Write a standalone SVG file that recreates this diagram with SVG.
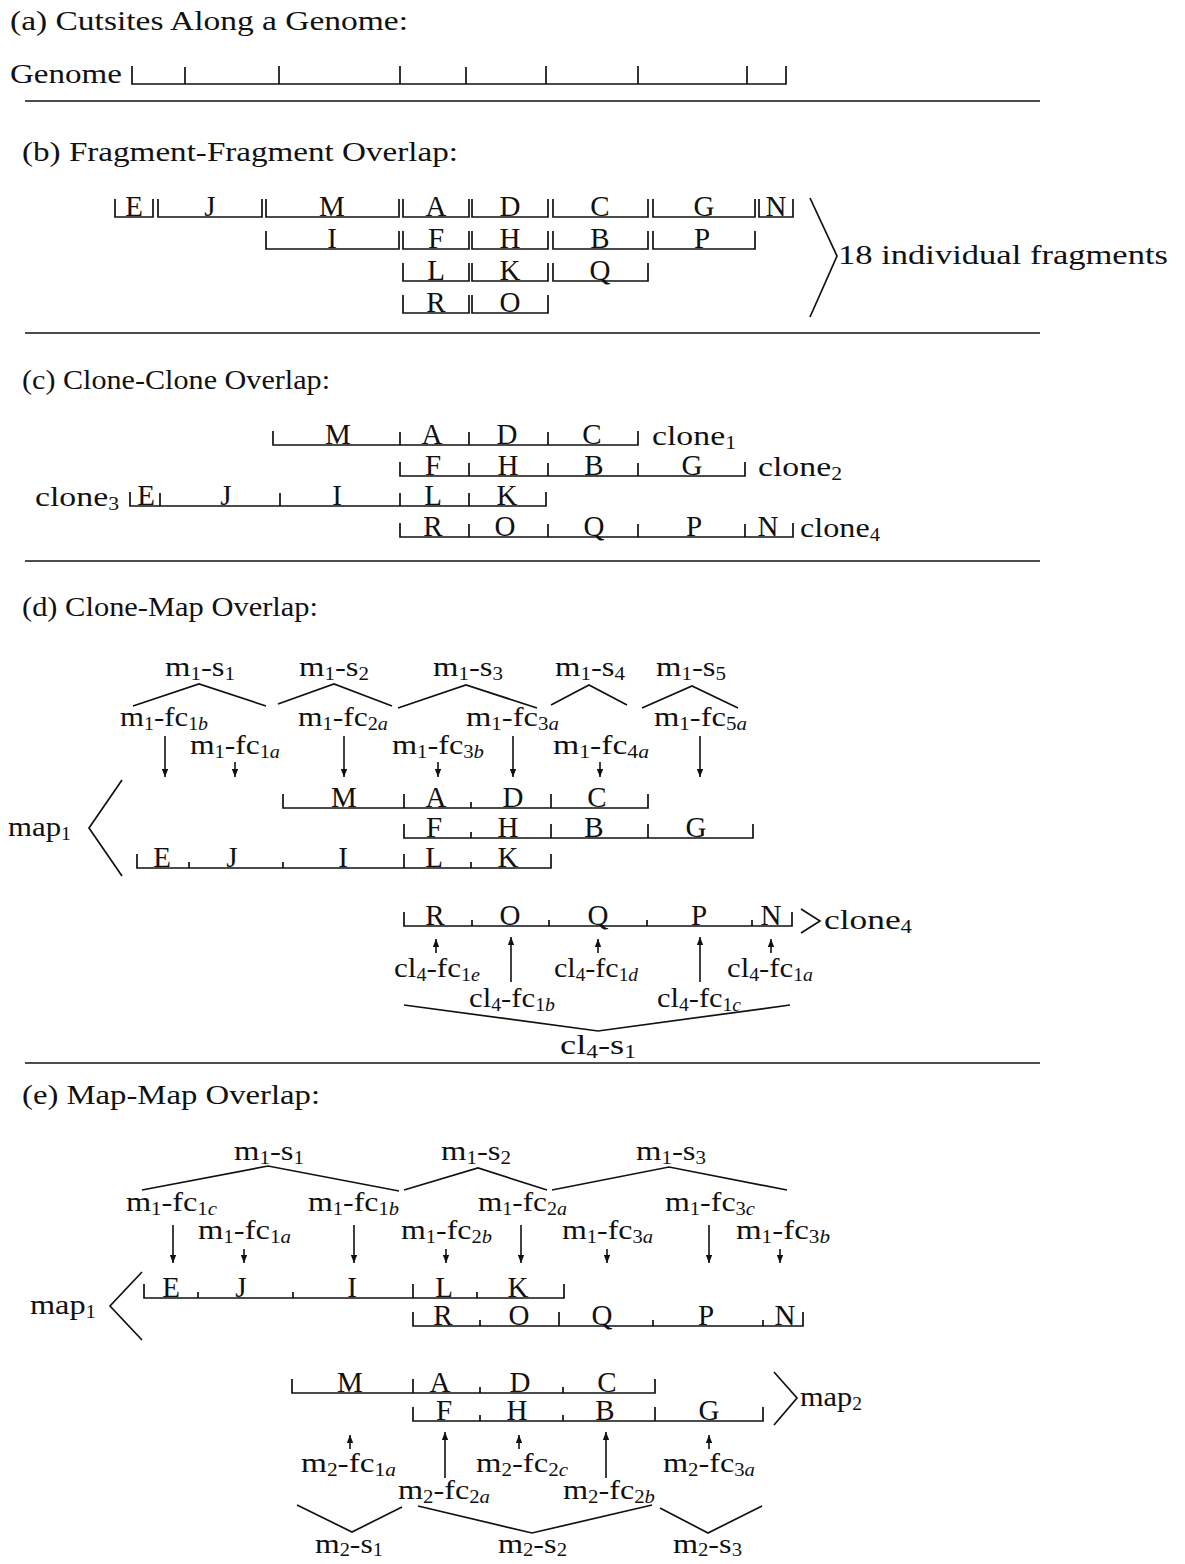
<svg xmlns="http://www.w3.org/2000/svg" width="1185" height="1564" viewBox="0 0 1185 1564">
<defs>
<style>
text{font-family:"Liberation Serif","Times New Roman",serif;fill:#111}
.t{font-size:28px}
.l{font-size:28px}
.s{font-size:18px}
.i{font-style:italic}
.f{font-size:29px;text-anchor:middle}
.ln{stroke:#111;stroke-width:1.7;fill:none}
.cn{stroke:#111;stroke-width:1.7;fill:none}
.ar{stroke:#111;stroke-width:1.6;fill:none;marker-end:url(#ah)}
.sep{stroke:#111;stroke-width:1.7}
</style>
<marker id="ah" viewBox="0 0 10 8" refX="10" refY="4" markerWidth="8" markerHeight="6.4" markerUnits="userSpaceOnUse" orient="auto"><path d="M0,0 L10,4 L0,8 z" fill="#111"/></marker>
</defs>
<rect width="1185" height="1564" fill="#fff"/>

<g id="separators">
<line class="sep" x1="25" y1="101" x2="1040" y2="101"/>
<line class="sep" x1="25" y1="333" x2="1040" y2="333"/>
<line class="sep" x1="25" y1="561" x2="1040" y2="561"/>
<line class="sep" x1="25" y1="1063" x2="1040" y2="1063"/>
</g>

<g id="section-a">
<text id="title-a" class="t" x="10" y="30" textLength="398" lengthAdjust="spacingAndGlyphs">(a) Cutsites Along a Genome:</text>
<g id="genome">
<text class="l" x="10" y="83" textLength="112" lengthAdjust="spacingAndGlyphs">Genome</text>
<path class="ln" d="M132,66V84H786V66 M185,84V67 M279,84V66 M400,84V66 M466,84V67 M546,84V66 M638,84V66 M747,84V66"/>
</g>
</g>

<g id="section-b">
<text id="title-b" class="t" x="22" y="161" textLength="436" lengthAdjust="spacingAndGlyphs">(b) Fragment-Fragment Overlap:</text>
<g id="frag-E"><path class="ln" d="M115,199V217H153V199"/><text class="f" x="134" y="216">E</text></g>
<g id="frag-J"><path class="ln" d="M158,199V217H262V199"/><text class="f" x="210" y="216">J</text></g>
<g id="frag-M"><path class="ln" d="M266,199V217H399V199"/><text class="f" x="332" y="216">M</text></g>
<g id="frag-A"><path class="ln" d="M403,199V217H469V199"/><text class="f" x="436" y="216">A</text></g>
<g id="frag-D"><path class="ln" d="M472,199V217H548V199"/><text class="f" x="510" y="216">D</text></g>
<g id="frag-C"><path class="ln" d="M553,199V217H648V199"/><text class="f" x="600" y="216">C</text></g>
<g id="frag-G"><path class="ln" d="M653,199V217H755V199"/><text class="f" x="704" y="216">G</text></g>
<g id="frag-N"><path class="ln" d="M759,199V217H793V199"/><text class="f" x="776" y="216">N</text></g>
<g id="frag-I"><path class="ln" d="M266,231V249H399V231"/><text class="f" x="332" y="248">I</text></g>
<g id="frag-F"><path class="ln" d="M403,231V249H469V231"/><text class="f" x="436" y="248">F</text></g>
<g id="frag-H"><path class="ln" d="M472,231V249H548V231"/><text class="f" x="510" y="248">H</text></g>
<g id="frag-B"><path class="ln" d="M553,231V249H648V231"/><text class="f" x="600" y="248">B</text></g>
<g id="frag-P"><path class="ln" d="M653,231V249H755V231"/><text class="f" x="702" y="248">P</text></g>
<g id="frag-L"><path class="ln" d="M403,263V281H469V263"/><text class="f" x="436" y="280">L</text></g>
<g id="frag-K"><path class="ln" d="M472,263V281H548V263"/><text class="f" x="510" y="280">K</text></g>
<g id="frag-Q"><path class="ln" d="M553,263V281H648V263"/><text class="f" x="600" y="280">Q</text></g>
<g id="frag-R"><path class="ln" d="M403,295V313H469V295"/><text class="f" x="436" y="312">R</text></g>
<g id="frag-O"><path class="ln" d="M472,295V313H548V295"/><text class="f" x="510" y="312">O</text></g>
<text id="label-18" class="l" x="838" y="264" textLength="330" lengthAdjust="spacingAndGlyphs">18 individual fragments</text>
</g>

<g id="section-c">
<text id="title-c" class="t" x="22" y="389" textLength="308" lengthAdjust="spacingAndGlyphs">(c) Clone-Clone Overlap:</text>
<g id="c-clone1"><path class="ln" d="M273,431V445H638V431 M400,445V432 M469,445V432 M548,445V432"/>
<text class="f" x="338" y="444">M</text><text class="f" x="432" y="444">A</text><text class="f" x="507" y="444">D</text><text class="f" x="592" y="444">C</text>
<text class="l" x="652" y="445" textLength="84" lengthAdjust="spacingAndGlyphs">clone<tspan class="s" dy="4">1</tspan></text></g>
<g id="c-clone2"><path class="ln" d="M400,462V476H745V462 M469,476V463 M548,476V463 M638,476V463"/>
<text class="f" x="433" y="475">F</text><text class="f" x="508" y="475">H</text><text class="f" x="594" y="475">B</text><text class="f" x="692" y="475">G</text>
<text class="l" x="758" y="476" textLength="84" lengthAdjust="spacingAndGlyphs">clone<tspan class="s" dy="4">2</tspan></text></g>
<g id="c-clone3"><path class="ln" d="M130,492V506H546V492 M160,506V493 M280,506V493 M400,506V493 M469,506V493"/>
<text class="f" x="146" y="505">E</text><text class="f" x="226" y="505">J</text><text class="f" x="337" y="505">I</text><text class="f" x="433" y="505">L</text><text class="f" x="507" y="505">K</text>
<text class="l" x="35" y="506" textLength="84" lengthAdjust="spacingAndGlyphs">clone<tspan class="s" dy="4">3</tspan></text></g>
<g id="c-clone4"><path class="ln" d="M400,523V537H793V523 M469,537V524 M548,537V524 M638,537V524 M745,537V524"/>
<text class="f" x="433" y="536">R</text><text class="f" x="505" y="536">O</text><text class="f" x="594" y="536">Q</text><text class="f" x="694" y="536">P</text><text class="f" x="768" y="536">N</text>
<text class="l" x="800" y="537" textLength="80" lengthAdjust="spacingAndGlyphs">clone<tspan class="s" dy="4">4</tspan></text></g>
</g>

<g id="section-d">
<text id="title-d" class="t" x="22" y="616" textLength="296" lengthAdjust="spacingAndGlyphs">(d) Clone-Map Overlap:</text>
<g id="d-m1-s1"><text class="l" x="165" y="676" textLength="70" lengthAdjust="spacingAndGlyphs">m<tspan class="s" dy="4">1</tspan><tspan dy="-4">-s</tspan><tspan class="s" dy="4">1</tspan></text></g>
<g id="d-m1-s2"><text class="l" x="299" y="676" textLength="70" lengthAdjust="spacingAndGlyphs">m<tspan class="s" dy="4">1</tspan><tspan dy="-4">-s</tspan><tspan class="s" dy="4">2</tspan></text></g>
<g id="d-m1-s3"><text class="l" x="433" y="676" textLength="70" lengthAdjust="spacingAndGlyphs">m<tspan class="s" dy="4">1</tspan><tspan dy="-4">-s</tspan><tspan class="s" dy="4">3</tspan></text></g>
<g id="d-m1-s4"><text class="l" x="555" y="676" textLength="70" lengthAdjust="spacingAndGlyphs">m<tspan class="s" dy="4">1</tspan><tspan dy="-4">-s</tspan><tspan class="s" dy="4">4</tspan></text></g>
<g id="d-m1-s5"><text class="l" x="656" y="676" textLength="70" lengthAdjust="spacingAndGlyphs">m<tspan class="s" dy="4">1</tspan><tspan dy="-4">-s</tspan><tspan class="s" dy="4">5</tspan></text></g>
<g id="d-m1-fc1b"><text class="l" x="120" y="726" textLength="88" lengthAdjust="spacingAndGlyphs">m<tspan class="s" dy="4">1</tspan><tspan dy="-4">-fc</tspan><tspan class="s" dy="4">1<tspan class="i">b</tspan></tspan></text></g>
<g id="d-m1-fc2a"><text class="l" x="298" y="726" textLength="90" lengthAdjust="spacingAndGlyphs">m<tspan class="s" dy="4">1</tspan><tspan dy="-4">-fc</tspan><tspan class="s" dy="4">2<tspan class="i">a</tspan></tspan></text></g>
<g id="d-m1-fc3a"><text class="l" x="466" y="726" textLength="93" lengthAdjust="spacingAndGlyphs">m<tspan class="s" dy="4">1</tspan><tspan dy="-4">-fc</tspan><tspan class="s" dy="4">3<tspan class="i">a</tspan></tspan></text></g>
<g id="d-m1-fc5a"><text class="l" x="654" y="726" textLength="93" lengthAdjust="spacingAndGlyphs">m<tspan class="s" dy="4">1</tspan><tspan dy="-4">-fc</tspan><tspan class="s" dy="4">5<tspan class="i">a</tspan></tspan></text></g>
<g id="d-m1-fc1a"><text class="l" x="190" y="754" textLength="90" lengthAdjust="spacingAndGlyphs">m<tspan class="s" dy="4">1</tspan><tspan dy="-4">-fc</tspan><tspan class="s" dy="4">1<tspan class="i">a</tspan></tspan></text></g>
<g id="d-m1-fc3b"><text class="l" x="392" y="754" textLength="92" lengthAdjust="spacingAndGlyphs">m<tspan class="s" dy="4">1</tspan><tspan dy="-4">-fc</tspan><tspan class="s" dy="4">3<tspan class="i">b</tspan></tspan></text></g>
<g id="d-m1-fc4a"><text class="l" x="553" y="754" textLength="96" lengthAdjust="spacingAndGlyphs">m<tspan class="s" dy="4">1</tspan><tspan dy="-4">-fc</tspan><tspan class="s" dy="4">4<tspan class="i">a</tspan></tspan></text></g>

<g id="d-map1-row1"><path class="ln" d="M283,794V808H648V794 M404,808V794 M471,808V802 M551,808V794"/>
<text class="f" x="344" y="807">M</text><text class="f" x="436" y="807">A</text><text class="f" x="513" y="807">D</text><text class="f" x="597" y="807">C</text></g>
<g id="d-map1-row2"><path class="ln" d="M404,824V838H753V824 M471,838V832 M551,838V824 M648,838V824"/>
<text class="f" x="434" y="837">F</text><text class="f" x="508" y="837">H</text><text class="f" x="594" y="837">B</text><text class="f" x="696" y="837">G</text></g>
<g id="d-map1-row3"><path class="ln" d="M137,854V868H551V854 M189,868V862 M283,868V862 M404,868V854 M471,868V862"/>
<text class="f" x="162" y="867">E</text><text class="f" x="232" y="867">J</text><text class="f" x="343" y="867">I</text><text class="f" x="434" y="867">L</text><text class="f" x="508" y="867">K</text></g>
<g id="d-map1-label"><text class="l" x="8" y="836" textLength="63" lengthAdjust="spacingAndGlyphs">map<tspan class="s" dy="4">1</tspan></text></g>

<g id="d-clone4"><path class="ln" d="M404,912V926H792V912 M472,926V920 M549,926V920 M647,926V920 M752,926V920"/>
<text class="f" x="435" y="925">R</text><text class="f" x="510" y="925">O</text><text class="f" x="598" y="925">Q</text><text class="f" x="699" y="925">P</text><text class="f" x="771" y="925">N</text>
<text class="l" x="824" y="929" textLength="88" lengthAdjust="spacingAndGlyphs">clone<tspan class="s" dy="4">4</tspan></text></g>

<g id="d-cl4-fc1e"><text class="l" x="394" y="977" textLength="86" lengthAdjust="spacingAndGlyphs">cl<tspan class="s" dy="4">4</tspan><tspan dy="-4">-fc</tspan><tspan class="s" dy="4">1<tspan class="i">e</tspan></tspan></text></g>
<g id="d-cl4-fc1d"><text class="l" x="554" y="977" textLength="84" lengthAdjust="spacingAndGlyphs">cl<tspan class="s" dy="4">4</tspan><tspan dy="-4">-fc</tspan><tspan class="s" dy="4">1<tspan class="i">d</tspan></tspan></text></g>
<g id="d-cl4-fc1a"><text class="l" x="727" y="977" textLength="86" lengthAdjust="spacingAndGlyphs">cl<tspan class="s" dy="4">4</tspan><tspan dy="-4">-fc</tspan><tspan class="s" dy="4">1<tspan class="i">a</tspan></tspan></text></g>
<g id="d-cl4-fc1b"><text class="l" x="469" y="1007" textLength="86" lengthAdjust="spacingAndGlyphs">cl<tspan class="s" dy="4">4</tspan><tspan dy="-4">-fc</tspan><tspan class="s" dy="4">1<tspan class="i">b</tspan></tspan></text></g>
<g id="d-cl4-fc1c"><text class="l" x="657" y="1007" textLength="84" lengthAdjust="spacingAndGlyphs">cl<tspan class="s" dy="4">4</tspan><tspan dy="-4">-fc</tspan><tspan class="s" dy="4">1<tspan class="i">c</tspan></tspan></text></g>
<g id="d-cl4-s1"><text class="l" x="560" y="1054" textLength="76" lengthAdjust="spacingAndGlyphs">cl<tspan class="s" dy="4">4</tspan><tspan dy="-4">-s</tspan><tspan class="s" dy="4">1</tspan></text></g>
</g>

<g id="section-e">
<text id="title-e" class="t" x="22" y="1104" textLength="298" lengthAdjust="spacingAndGlyphs">(e) Map-Map Overlap:</text>
<g id="e-m1-s1"><text class="l" x="234" y="1160" textLength="70" lengthAdjust="spacingAndGlyphs">m<tspan class="s" dy="4">1</tspan><tspan dy="-4">-s</tspan><tspan class="s" dy="4">1</tspan></text></g>
<g id="e-m1-s2"><text class="l" x="441" y="1160" textLength="70" lengthAdjust="spacingAndGlyphs">m<tspan class="s" dy="4">1</tspan><tspan dy="-4">-s</tspan><tspan class="s" dy="4">2</tspan></text></g>
<g id="e-m1-s3"><text class="l" x="636" y="1160" textLength="70" lengthAdjust="spacingAndGlyphs">m<tspan class="s" dy="4">1</tspan><tspan dy="-4">-s</tspan><tspan class="s" dy="4">3</tspan></text></g>
<g id="e-m1-fc1c"><text class="l" x="126" y="1211" textLength="91" lengthAdjust="spacingAndGlyphs">m<tspan class="s" dy="4">1</tspan><tspan dy="-4">-fc</tspan><tspan class="s" dy="4">1<tspan class="i">c</tspan></tspan></text></g>
<g id="e-m1-fc1b"><text class="l" x="308" y="1211" textLength="91" lengthAdjust="spacingAndGlyphs">m<tspan class="s" dy="4">1</tspan><tspan dy="-4">-fc</tspan><tspan class="s" dy="4">1<tspan class="i">b</tspan></tspan></text></g>
<g id="e-m1-fc2a"><text class="l" x="478" y="1211" textLength="89" lengthAdjust="spacingAndGlyphs">m<tspan class="s" dy="4">1</tspan><tspan dy="-4">-fc</tspan><tspan class="s" dy="4">2<tspan class="i">a</tspan></tspan></text></g>
<g id="e-m1-fc3c"><text class="l" x="665" y="1211" textLength="90" lengthAdjust="spacingAndGlyphs">m<tspan class="s" dy="4">1</tspan><tspan dy="-4">-fc</tspan><tspan class="s" dy="4">3<tspan class="i">c</tspan></tspan></text></g>
<g id="e-m1-fc1a"><text class="l" x="198" y="1239" textLength="93" lengthAdjust="spacingAndGlyphs">m<tspan class="s" dy="4">1</tspan><tspan dy="-4">-fc</tspan><tspan class="s" dy="4">1<tspan class="i">a</tspan></tspan></text></g>
<g id="e-m1-fc2b"><text class="l" x="401" y="1239" textLength="91" lengthAdjust="spacingAndGlyphs">m<tspan class="s" dy="4">1</tspan><tspan dy="-4">-fc</tspan><tspan class="s" dy="4">2<tspan class="i">b</tspan></tspan></text></g>
<g id="e-m1-fc3a"><text class="l" x="562" y="1239" textLength="91" lengthAdjust="spacingAndGlyphs">m<tspan class="s" dy="4">1</tspan><tspan dy="-4">-fc</tspan><tspan class="s" dy="4">3<tspan class="i">a</tspan></tspan></text></g>
<g id="e-m1-fc3b"><text class="l" x="736" y="1239" textLength="94" lengthAdjust="spacingAndGlyphs">m<tspan class="s" dy="4">1</tspan><tspan dy="-4">-fc</tspan><tspan class="s" dy="4">3<tspan class="i">b</tspan></tspan></text></g>

<g id="e-map1-row1"><path class="ln" d="M144,1284V1298H564V1284 M198,1298V1292 M293,1298V1292 M413,1298V1284 M477,1298V1292"/>
<text class="f" x="171" y="1297">E</text><text class="f" x="241" y="1297">J</text><text class="f" x="352" y="1297">I</text><text class="f" x="444" y="1297">L</text><text class="f" x="518" y="1297">K</text></g>
<g id="e-map1-row2"><path class="ln" d="M413,1312V1326H803V1312 M480,1326V1320 M559,1326V1312 M653,1326V1320 M763,1326V1320"/>
<text class="f" x="443" y="1325">R</text><text class="f" x="519" y="1325">O</text><text class="f" x="602" y="1325">Q</text><text class="f" x="706" y="1325">P</text><text class="f" x="785" y="1325">N</text></g>
<g id="e-map1-label"><text class="l" x="30" y="1314" textLength="66" lengthAdjust="spacingAndGlyphs">map<tspan class="s" dy="4">1</tspan></text></g>

<g id="e-map2-row1"><path class="ln" d="M292,1379V1393H655V1379 M413,1393V1379 M480,1393V1387 M563,1393V1387"/>
<text class="f" x="350" y="1392">M</text><text class="f" x="440" y="1392">A</text><text class="f" x="520" y="1392">D</text><text class="f" x="607" y="1392">C</text></g>
<g id="e-map2-row2"><path class="ln" d="M413,1407V1421H763V1407 M480,1421V1415 M563,1421V1415 M655,1421V1407"/>
<text class="f" x="444" y="1420">F</text><text class="f" x="517" y="1420">H</text><text class="f" x="605" y="1420">B</text><text class="f" x="709" y="1420">G</text></g>
<g id="e-map2-label"><text class="l" x="800" y="1406" textLength="62" lengthAdjust="spacingAndGlyphs">map<tspan class="s" dy="4">2</tspan></text></g>

<g id="e-m2-fc1a"><text class="l" x="301" y="1472" textLength="95" lengthAdjust="spacingAndGlyphs">m<tspan class="s" dy="4">2</tspan><tspan dy="-4">-fc</tspan><tspan class="s" dy="4">1<tspan class="i">a</tspan></tspan></text></g>
<g id="e-m2-fc2c"><text class="l" x="476" y="1472" textLength="92" lengthAdjust="spacingAndGlyphs">m<tspan class="s" dy="4">2</tspan><tspan dy="-4">-fc</tspan><tspan class="s" dy="4">2<tspan class="i">c</tspan></tspan></text></g>
<g id="e-m2-fc3a"><text class="l" x="663" y="1472" textLength="92" lengthAdjust="spacingAndGlyphs">m<tspan class="s" dy="4">2</tspan><tspan dy="-4">-fc</tspan><tspan class="s" dy="4">3<tspan class="i">a</tspan></tspan></text></g>
<g id="e-m2-fc2a"><text class="l" x="398" y="1499" textLength="92" lengthAdjust="spacingAndGlyphs">m<tspan class="s" dy="4">2</tspan><tspan dy="-4">-fc</tspan><tspan class="s" dy="4">2<tspan class="i">a</tspan></tspan></text></g>
<g id="e-m2-fc2b"><text class="l" x="563" y="1499" textLength="92" lengthAdjust="spacingAndGlyphs">m<tspan class="s" dy="4">2</tspan><tspan dy="-4">-fc</tspan><tspan class="s" dy="4">2<tspan class="i">b</tspan></tspan></text></g>
<g id="e-m2-s1"><text class="l" x="315" y="1553" textLength="68" lengthAdjust="spacingAndGlyphs">m<tspan class="s" dy="3">2</tspan><tspan dy="-3">-s</tspan><tspan class="s" dy="3">1</tspan></text></g>
<g id="e-m2-s2"><text class="l" x="498" y="1553" textLength="69" lengthAdjust="spacingAndGlyphs">m<tspan class="s" dy="3">2</tspan><tspan dy="-3">-s</tspan><tspan class="s" dy="3">2</tspan></text></g>
<g id="e-m2-s3"><text class="l" x="673" y="1553" textLength="69" lengthAdjust="spacingAndGlyphs">m<tspan class="s" dy="3">2</tspan><tspan dy="-3">-s</tspan><tspan class="s" dy="3">3</tspan></text></g>
</g>

<g id="connectors">
<polyline class="cn" points="810,198 837,256 810,317"/>
<polyline class="cn" points="133,706 199,684 266,706"/>
<polyline class="cn" points="278,704 334,684 392,706"/>
<polyline class="cn" points="398,708 466,685 537,708"/>
<polyline class="cn" points="551,705 589,685 627,705"/>
<polyline class="cn" points="642,708 692,686 738,708"/>
<line class="ar" x1="165" y1="736" x2="165" y2="777"/>
<line class="ar" x1="344" y1="736" x2="344" y2="777"/>
<line class="ar" x1="513" y1="736" x2="513" y2="777"/>
<line class="ar" x1="700" y1="736" x2="700" y2="777"/>
<line class="ar" x1="235" y1="762" x2="235" y2="777"/>
<line class="ar" x1="438" y1="762" x2="438" y2="777"/>
<line class="ar" x1="600" y1="762" x2="600" y2="777"/>
<polyline class="cn" points="122,780 89,828 122,876"/>
<polyline class="cn" points="801,909 820,921 801,933"/>
<line class="ar" x1="436" y1="953" x2="436" y2="939"/>
<line class="ar" x1="598" y1="953" x2="598" y2="939"/>
<line class="ar" x1="771" y1="953" x2="771" y2="939"/>
<line class="ar" x1="511" y1="982" x2="511" y2="937"/>
<line class="ar" x1="700" y1="982" x2="700" y2="937"/>
<polyline class="cn" points="404,1005 598,1031 790,1005"/>
<polyline class="cn" points="142,1190 268,1166 399,1191"/>
<polyline class="cn" points="404,1190 478,1168 547,1190"/>
<polyline class="cn" points="552,1190 669,1167 787,1190"/>
<line class="ar" x1="173" y1="1225" x2="173" y2="1263"/>
<line class="ar" x1="354" y1="1225" x2="354" y2="1263"/>
<line class="ar" x1="521" y1="1225" x2="521" y2="1263"/>
<line class="ar" x1="709" y1="1225" x2="709" y2="1263"/>
<line class="ar" x1="244" y1="1249" x2="244" y2="1263"/>
<line class="ar" x1="446" y1="1249" x2="446" y2="1263"/>
<line class="ar" x1="607" y1="1249" x2="607" y2="1263"/>
<line class="ar" x1="780" y1="1249" x2="780" y2="1263"/>
<polyline class="cn" points="142,1272 110,1306 142,1340"/>
<polyline class="cn" points="774,1372 797,1398 774,1425"/>
<line class="ar" x1="350" y1="1449" x2="350" y2="1435"/>
<line class="ar" x1="519" y1="1449" x2="519" y2="1435"/>
<line class="ar" x1="709" y1="1449" x2="709" y2="1435"/>
<line class="ar" x1="445" y1="1478" x2="445" y2="1432"/>
<line class="ar" x1="606" y1="1478" x2="606" y2="1432"/>
<polyline class="cn" points="297,1505 352,1532 402,1507"/>
<polyline class="cn" points="418,1506 532,1533 652,1505"/>
<polyline class="cn" points="660,1508 708,1533 762,1506"/>
</g>
</svg>
